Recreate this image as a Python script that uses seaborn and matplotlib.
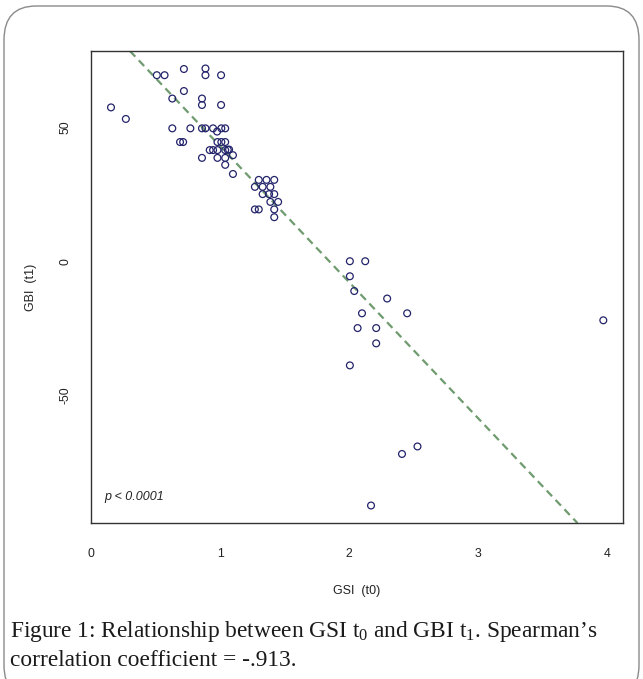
import matplotlib
matplotlib.use("Agg")
import matplotlib.pyplot as plt
from matplotlib.patches import FancyBboxPatch
import seaborn as sns
import pandas as pd

# ---- data ----
gsi_t0 = [0.155, 0.27, 0.51, 0.57, 0.72, 0.887, 0.887, 1.008, 0.72, 0.63,
          0.86, 0.86, 1.008, 0.63, 0.77, 0.86, 0.887, 0.946, 0.977, 1.01,
          1.04, 0.69, 0.714, 0.98, 1.01, 1.04, 0.92, 0.946, 0.98, 1.04,
          1.06, 1.07, 1.10, 0.86, 0.98, 1.04, 1.04, 1.10, 1.30, 1.36,
          1.42, 1.27, 1.33, 1.39, 1.33, 1.38, 1.42, 1.39, 1.45, 1.27,
          1.30, 1.42, 1.42, 2.006, 2.125, 2.006, 2.04, 2.295, 2.10, 2.45,
          2.066, 2.21, 2.21, 2.006, 2.41, 2.53, 3.97, 2.17]
gbi_t1 = [57.3, 53.0, 69.3, 69.3, 71.6, 71.8, 69.3, 69.3, 63.4, 60.6,
          60.6, 58.2, 58.2, 49.5, 49.5, 49.5, 49.5, 49.5, 48.3, 49.5,
          49.5, 44.4, 44.4, 44.4, 44.4, 44.4, 41.4, 41.4, 41.4, 41.4,
          41.5, 41.6, 39.5, 38.5, 38.5, 38.5, 35.9, 32.5, 30.3, 30.3,
          30.3, 27.7, 27.7, 27.7, 25.0, 25.0, 25.0, 22.1, 22.1, 19.3,
          19.3, 19.3, 16.4, 0.0, 0.0, -5.6, -11.1, -13.9, -19.4, -19.4,
          -24.9, -24.9, -30.6, -38.8, -71.8, -69.0, -22.0, -91.0]
fit_intercept = 93.6
fit_slope = -50.7
x_ticks = [0, 1, 2, 3, 4]
y_ticks = [-50, 0, 50]
p_text = "p < 0.0001"
x_label = "GSI  (t0)"
y_label = "GBI  (t1)"
caption_1 = r"Figure 1: Relationship between GSI t$_{\mathrm{0}}$ and GBI t$_{\mathrm{1}}$. Spearman’s"
caption_2 = "correlation coefficient = -.913."

df = pd.DataFrame({"gsi": gsi_t0, "gbi": gbi_t1})

sns.set_style("white")
plt.rcParams["font.family"] = ["Liberation Sans", "DejaVu Sans"]
plt.rcParams["mathtext.fontset"] = "custom"
plt.rcParams["mathtext.rm"] = "Liberation Serif"
plt.rcParams["mathtext.it"] = "Liberation Serif:italic"

W, H = 643, 679
fig = plt.figure(figsize=(W / 100, H / 100), dpi=100)
ax = fig.add_axes([91 / W, 1 - 523 / H, (623 - 91) / W, (523 - 51) / H])

sns.scatterplot(data=df, x="gsi", y="gbi", ax=ax, marker="o", s=24,
                facecolor="none", edgecolor="#23236b", linewidth=0.9,
                legend=False, zorder=3)

ax.axline((0, fit_intercept), slope=fit_slope, color="#6f9b6f",
          linestyle=(0, (3.5, 2.3)), linewidth=1.6, zorder=2)

xmin, xmax = min(gsi_t0), max(gsi_t0)
ymin, ymax = min(gbi_t1), max(gbi_t1)
px = 0.04 * (xmax - xmin)
py = 0.04 * (ymax - ymin)
ax.set_xlim(xmin - px, xmax + px)
ax.set_ylim(ymin - py, ymax + py)

ax.set_xticks(x_ticks)
ax.set_yticks(y_ticks)
ax.set_xticklabels([str(t) for t in x_ticks], fontsize=8.8)
ax.set_yticklabels([str(t) for t in y_ticks], fontsize=8.8, rotation=90,
                   va="center")
ax.tick_params(axis="x", pad=12)
ax.tick_params(axis="y", pad=8)
ax.tick_params(direction="out", length=6, width=0.9, color="#333333",
               labelcolor="#222222")
for sp in ax.spines.values():
    sp.set_visible(True)
    sp.set_color("#333333")
    sp.set_linewidth(1.0)

ax.set_xlabel(x_label, fontsize=9, color="#222222", labelpad=18)
ax.set_ylabel(y_label, fontsize=9, color="#222222", labelpad=16)

ax.text(0.1, -88, p_text, fontsize=9, style="italic", color="#222222",
        ha="left", va="center")

# rounded outer frame
frame = FancyBboxPatch((4 / W, -20 / H), (639 - 4) / W, (H - 6 + 20) / H,
                       boxstyle="round,pad=0,rounding_size=0.05",
                       transform=fig.transFigure, fill=False,
                       edgecolor="#8a8a8a", linewidth=1.0, clip_on=False)
fig.patches.append(frame)

fig.text(10 / W, 1 - 632 / H, caption_1, fontsize=16.8,
         family=["Liberation Serif", "DejaVu Serif"], ha="left",
         va="center", color="#1a1a1a")
fig.text(10 / W, 1 - 661 / H, caption_2, fontsize=16.8,
         family=["Liberation Serif", "DejaVu Serif"], ha="left",
         va="center", color="#1a1a1a")

fig.savefig("out.png", dpi=100)
